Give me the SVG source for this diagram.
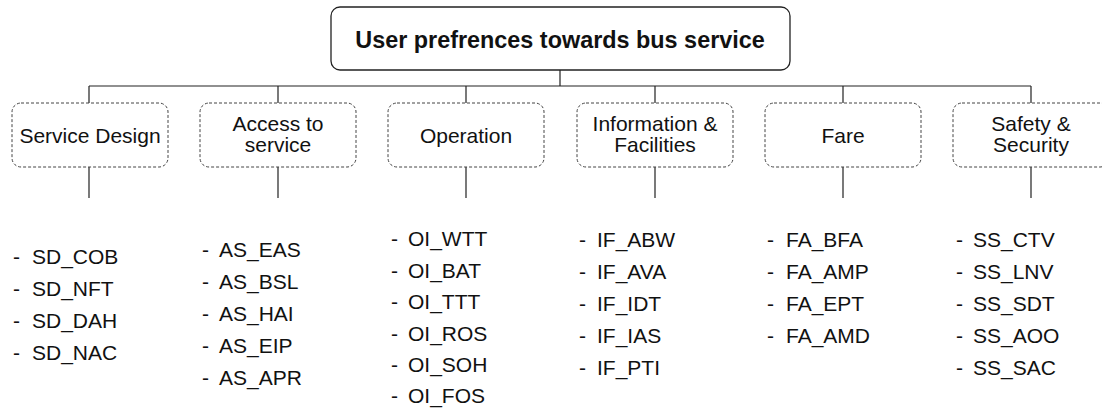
<svg xmlns="http://www.w3.org/2000/svg" width="1102" height="408" viewBox="0 0 1102 408">
<style>
.root{fill:#fff;stroke:#222;stroke-width:1.3}
.cat{fill:#fff;stroke:#444;stroke-width:1;stroke-dasharray:3 2}
.ln{stroke:#222;stroke-width:1.2;fill:none}
.t{font-family:"Liberation Sans",Arial,sans-serif;font-size:21px;fill:#111}
.tb{font-family:"Liberation Sans",Arial,sans-serif;font-size:23.4px;font-weight:bold;fill:#111}
.c{text-anchor:middle}
</style>
<rect width="1102" height="408" fill="#fff"/>
<g id="connectors">
<path class="ln" d="M560 70V86M89 86H1031M89 86V103M278 86V103M466 86V103M655 86V103M843 86V103M1031 86V103"/>
<path class="ln" d="M89 167V198M278 167V198M466 167V198M655 167V198M843 167V198M1031 167V198"/>
</g>
<g id="root">
<rect class="root" x="331" y="7" width="459" height="63" rx="9"/>
<text class="tb c" x="560" y="48">User prefrences towards bus service</text>
</g>
<g id="service-design">
<rect class="cat" x="12" y="103" width="156" height="64" rx="9"/>
<text class="t c" x="90" y="143">Service Design</text>
</g>
<g id="access">
<rect class="cat" x="200" y="103" width="156" height="64" rx="9"/>
<text class="t c" x="278" y="131">Access to</text>
<text class="t c" x="278" y="152">service</text>
</g>
<g id="operation">
<rect class="cat" x="388" y="103" width="156" height="64" rx="9"/>
<text class="t c" x="466" y="143">Operation</text>
</g>
<g id="information">
<rect class="cat" x="577" y="103" width="156" height="64" rx="9"/>
<text class="t c" x="655" y="131">Information &amp;</text>
<text class="t c" x="655" y="152">Facilities</text>
</g>
<g id="fare">
<rect class="cat" x="765" y="103" width="156" height="64" rx="9"/>
<text class="t c" x="843" y="143">Fare</text>
</g>
<g id="safety">
<rect class="cat" x="953" y="103" width="156" height="64" rx="9"/>
<text class="t c" x="1031" y="131">Safety &amp;</text>
<text class="t c" x="1031" y="152">Security</text>
</g>
<g id="sd-items" class="t">
<text y="264"><tspan x="13">-</tspan><tspan x="32">SD_COB</tspan></text>
<text y="296"><tspan x="13">-</tspan><tspan x="32">SD_NFT</tspan></text>
<text y="328"><tspan x="13">-</tspan><tspan x="32">SD_DAH</tspan></text>
<text y="360"><tspan x="13">-</tspan><tspan x="32">SD_NAC</tspan></text>
</g>
<g id="as-items" class="t">
<text y="257"><tspan x="202">-</tspan><tspan x="219">AS_EAS</tspan></text>
<text y="289"><tspan x="202">-</tspan><tspan x="219">AS_BSL</tspan></text>
<text y="321"><tspan x="202">-</tspan><tspan x="219">AS_HAI</tspan></text>
<text y="353"><tspan x="202">-</tspan><tspan x="219">AS_EIP</tspan></text>
<text y="385"><tspan x="202">-</tspan><tspan x="219">AS_APR</tspan></text>
</g>
<g id="oi-items" class="t">
<text y="246"><tspan x="391">-</tspan><tspan x="408">OI_WTT</tspan></text>
<text y="277.5"><tspan x="391">-</tspan><tspan x="408">OI_BAT</tspan></text>
<text y="309"><tspan x="391">-</tspan><tspan x="408">OI_TTT</tspan></text>
<text y="340.5"><tspan x="391">-</tspan><tspan x="408">OI_ROS</tspan></text>
<text y="372"><tspan x="391">-</tspan><tspan x="408">OI_SOH</tspan></text>
<text y="403"><tspan x="391">-</tspan><tspan x="408">OI_FOS</tspan></text>
</g>
<g id="if-items" class="t">
<text y="247"><tspan x="579">-</tspan><tspan x="597">IF_ABW</tspan></text>
<text y="279"><tspan x="579">-</tspan><tspan x="597">IF_AVA</tspan></text>
<text y="311"><tspan x="579">-</tspan><tspan x="597">IF_IDT</tspan></text>
<text y="343"><tspan x="579">-</tspan><tspan x="597">IF_IAS</tspan></text>
<text y="375"><tspan x="579">-</tspan><tspan x="597">IF_PTI</tspan></text>
</g>
<g id="fa-items" class="t">
<text y="247"><tspan x="767">-</tspan><tspan x="786">FA_BFA</tspan></text>
<text y="279"><tspan x="767">-</tspan><tspan x="786">FA_AMP</tspan></text>
<text y="311"><tspan x="767">-</tspan><tspan x="786">FA_EPT</tspan></text>
<text y="343"><tspan x="767">-</tspan><tspan x="786">FA_AMD</tspan></text>
</g>
<g id="ss-items" class="t">
<text y="247"><tspan x="956">-</tspan><tspan x="973">SS_CTV</tspan></text>
<text y="279"><tspan x="956">-</tspan><tspan x="973">SS_LNV</tspan></text>
<text y="311"><tspan x="956">-</tspan><tspan x="973">SS_SDT</tspan></text>
<text y="343"><tspan x="956">-</tspan><tspan x="973">SS_AOO</tspan></text>
<text y="375"><tspan x="956">-</tspan><tspan x="973">SS_SAC</tspan></text>
</g>
</svg>
